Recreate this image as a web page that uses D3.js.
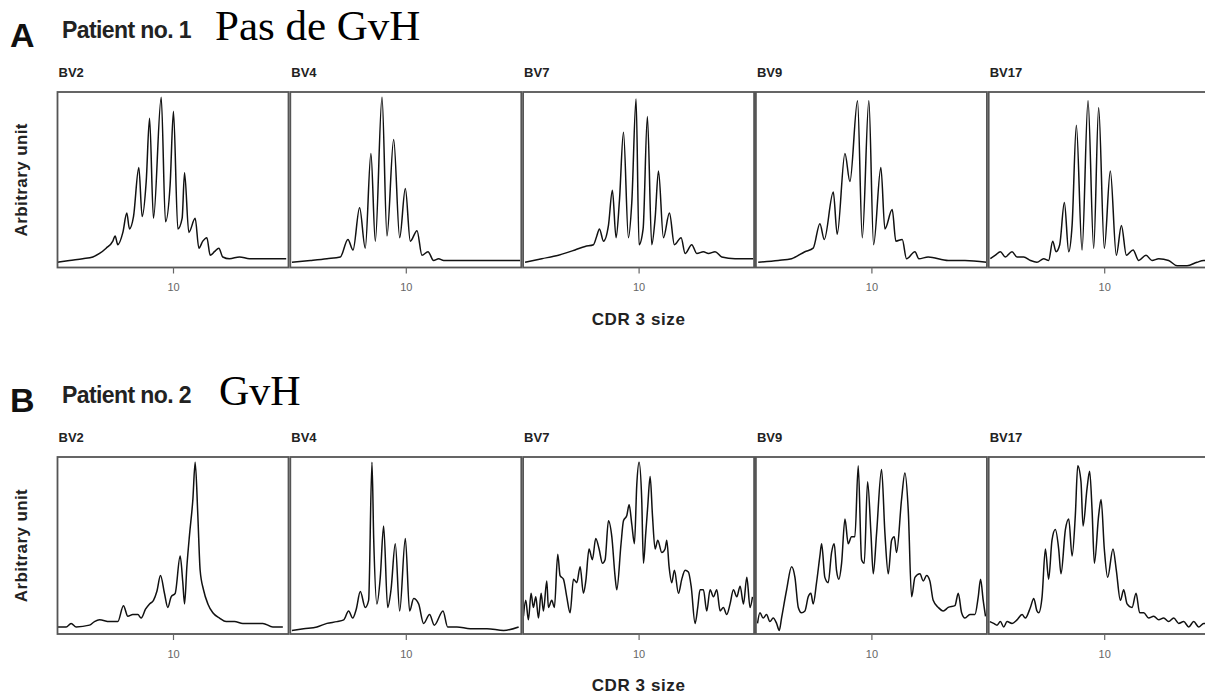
<!DOCTYPE html>
<html>
<head>
<meta charset="utf-8">
<script src="https://cdn.jsdelivr.net/npm/d3@7"></script>
<style>
  html, body { margin: 0; padding: 0; background: #fff; }
  svg { display: block; }
</style>
</head>
<body>
<svg id="chart" width="1205" height="695"></svg>
<script>
// ---------------- DATA ----------------
const panelLetters = ["A", "B"];
const patientLabels = ["Patient no. 1", "Patient no. 2"];
const statusLabels = ["Pas de GvH", "GvH"];
const families = ["BV2", "BV4", "BV7", "BV9", "BV17"];
const xTickValues = [10];
const xTickLabels = ["10"];
const xAxisTitle = "CDR 3 size";
const yAxisTitle = "Arbitrary unit";

// [CDR3 size, arbitrary intensity]  — Patient no. 1
const p1_BV2 = [[0.03,3],[1.04,4],[2.19,5],[3.06,6],[3.64,8],[4.21,11],[4.79,15],[4.99,18],[5.22,13],[5.66,20],[6.0,31],[6.23,22],[6.58,29],[7.04,57],[7.33,29],[7.68,49],[7.97,85],[8.31,28],[8.98,97],[9.35,26],[9.75,47],[10.04,89],[10.42,22],[10.79,28],[11.0,54],[11.37,20],[11.92,28],[12.24,11],[12.58,15],[12.93,17],[13.22,7],[13.59,9],[13.97,11],[14.31,6],[14.89,5],[15.76,6],[16.62,5],[17.78,5],[18.93,5],[19.8,5]];
const p1_BV4 = [[0.14,3],[1.73,4],[3.17,5],[4.33,6],[4.99,16],[5.43,10],[6.0,34],[6.49,11],[6.98,65],[7.36,15],[7.94,97],[8.37,18],[8.95,73],[9.47,17],[9.96,45],[10.39,15],[10.97,21],[11.4,7],[11.92,9],[12.41,4],[12.84,5],[13.28,4],[15.3,4],[17.6,4],[19.9,4]];
const p1_BV7 = [[0.17,3],[1.62,5],[3.06,7],[4.5,10],[5.37,12],[6.09,13],[6.38,18],[6.61,22],[6.96,15],[7.39,24],[7.73,44],[8.05,17],[8.34,38],[8.69,77],[9.12,17],[9.41,37],[9.78,96],[10.04,13],[10.39,22],[10.76,86],[11.14,13],[11.43,28],[11.72,55],[12.15,17],[12.67,31],[13.1,13],[13.68,17],[14.03,8],[14.6,13],[15.04,8],[15.61,9],[16.05,8],[16.62,9],[17.2,6],[18.35,5],[19.94,5]];
const p1_BV9 = [[0.2,3],[1.93,4],[3.09,5],[4.24,9],[4.96,11],[5.54,25],[5.92,16],[6.7,43],[7.04,19],[7.71,65],[8.14,49],[8.8,95],[9.21,17],[9.78,95],[10.19,13],[10.82,57],[11.17,22],[11.8,33],[12.12,15],[12.67,16],[13.04,5],[13.77,9],[14.11,5],[14.92,6],[16.65,4],[18.1,4],[19.97,3]];
const p1_BV17 = [[0.14,5],[0.58,7],[1.01,9],[1.44,6],[2.02,9],[2.45,6],[3.03,6],[3.61,4],[4.18,3],[4.76,5],[5.19,4],[5.54,15],[5.83,9],[6.15,13],[6.55,37],[6.93,9],[7.22,24],[7.59,81],[8.08,10],[8.6,95],[9.09,11],[9.52,91],[10.01,11],[10.53,55],[11.05,7],[11.49,24],[11.92,7],[12.5,10],[12.99,4],[13.62,7],[14.14,4],[14.72,5],[15.58,4],[16.31,1],[17.17,1],[18.04,3],[18.61,4],[19.5,4]];

// Patient no. 2
const p2_BV2 = [[0.03,4],[0.75,4],[1.18,6],[1.62,4],[2.77,5],[3.2,7],[3.64,8],[4.5,7],[5.22,7],[5.71,16],[6.09,10],[6.52,11],[6.96,11],[7.24,9],[7.62,14],[7.97,17],[8.31,19],[8.6,24],[8.92,33],[9.26,23],[9.55,15],[9.84,21],[10.19,23],[10.62,44],[10.85,29],[11.0,17],[11.2,38],[11.43,56],[11.72,76],[11.92,97],[12.15,67],[12.35,36],[12.64,25],[13.02,17],[13.45,12],[14.03,9],[14.6,7],[15.32,7],[16.05,6],[16.91,6],[17.78,6],[18.64,4],[19.51,4]];
const p2_BV4 = [[0.14,2],[1.15,3],[2.31,4],[3.17,6],[4.04,7],[4.62,8],[5.05,13],[5.4,9],[5.71,14],[6.06,24],[6.49,15],[6.78,19],[7.07,97],[7.22,54],[7.5,17],[7.79,32],[8.08,61],[8.43,15],[8.72,25],[9.09,51],[9.47,13],[9.96,54],[10.33,13],[10.68,20],[11.11,17],[11.54,6],[12.06,11],[12.47,5],[13.22,13],[13.62,4],[14.43,4],[15.58,3],[17.03,3],[18.47,2],[19.77,4]];
const p2_BV7 = [[0.03,10],[0.23,19],[0.46,8],[0.69,23],[0.89,15],[1.1,21],[1.33,9],[1.56,23],[1.76,13],[2.05,30],[2.19,15],[2.48,19],[2.71,15],[3.0,45],[3.2,33],[3.49,31],[3.78,21],[4.07,12],[4.36,31],[4.65,29],[4.94,38],[5.22,23],[5.43,30],[5.71,48],[6.0,42],[6.29,54],[6.58,48],[6.87,40],[7.1,42],[7.39,64],[7.68,55],[7.97,32],[8.11,25],[8.48,51],[8.69,64],[8.98,67],[9.18,73],[9.41,62],[9.64,51],[9.84,84],[10.04,97],[10.27,76],[10.42,40],[10.62,57],[10.79,72],[11.0,89],[11.2,67],[11.43,48],[11.66,53],[12.01,46],[12.29,48],[12.44,53],[12.64,38],[12.87,29],[13.1,36],[13.45,23],[13.74,31],[14.03,36],[14.31,35],[14.55,27],[14.89,6],[15.12,15],[15.32,25],[15.61,25],[15.9,13],[16.19,25],[16.48,21],[16.77,25],[17.06,13],[17.34,15],[17.63,11],[17.92,17],[18.21,25],[18.5,21],[18.79,27],[19.08,17],[19.37,32],[19.65,15],[19.86,21]];
const p2_BV9 = [[0.14,6],[0.35,12],[0.63,9],[0.92,11],[1.21,7],[1.5,9],[1.79,6],[2.02,2],[2.22,9],[2.66,25],[3.09,38],[3.38,32],[3.67,15],[3.95,12],[4.24,13],[4.53,21],[4.76,23],[4.96,17],[5.25,29],[5.54,44],[5.69,51],[5.97,32],[6.26,29],[6.55,46],[6.78,51],[6.98,36],[7.19,31],[7.42,40],[7.71,65],[7.99,51],[8.28,55],[8.57,55],[8.86,95],[9.15,42],[9.38,40],[9.67,86],[9.96,57],[10.16,34],[10.45,57],[10.88,93],[11.17,57],[11.46,34],[11.75,53],[11.98,55],[12.18,46],[12.61,76],[12.9,91],[13.19,70],[13.48,21],[13.77,32],[14.2,34],[14.49,30],[14.78,33],[15.06,30],[15.35,19],[15.79,15],[16.22,13],[16.65,15],[17.23,16],[17.52,23],[17.81,12],[18.1,9],[18.53,11],[18.96,11],[19.25,21],[19.45,31],[19.68,19],[19.88,10]];
const p2_BV17 = [[0.09,7],[0.43,6],[0.72,5],[1.01,7],[1.3,4],[1.59,7],[2.02,6],[2.45,8],[2.89,11],[3.17,9],[3.61,15],[3.9,20],[4.18,13],[4.33,12],[4.62,21],[4.91,48],[5.19,31],[5.48,53],[5.77,59],[6.06,48],[6.26,34],[6.64,59],[6.93,65],[7.22,44],[7.5,67],[7.71,95],[7.99,86],[8.17,61],[8.51,82],[8.74,92],[8.95,70],[9.15,40],[9.52,67],[9.73,76],[10.01,48],[10.3,32],[10.76,48],[11.05,36],[11.4,19],[11.69,25],[11.98,17],[12.41,15],[12.76,23],[13.07,12],[13.42,12],[13.85,9],[14.29,10],[14.72,8],[15.15,9],[15.58,7],[16.02,9],[16.45,6],[16.88,7],[17.32,4],[17.75,7],[18.18,4],[18.61,6],[19.5,6]];

const patient1Traces = [p1_BV2, p1_BV4, p1_BV7, p1_BV9, p1_BV17];
const patient2Traces = [p2_BV2, p2_BV4, p2_BV7, p2_BV9, p2_BV17];

// ---------------- LAYOUT ----------------
const svg = d3.select("#chart");
const panelLeft0 = 57.5, panelStep = 232.8, panelW = 231;
const rows = [
  { top: 92,  h: 175.5, traces: patient1Traces },
  { top: 457, h: 177,   traces: patient2Traces }
];
const rowOffset = 365;

const x = d3.scaleLinear().domain([0, 20]).range([0, panelW]);

const defs = svg.append("defs");

rows.forEach((row, r) => {
  const dy = r * rowOffset;
  const y = d3.scaleLinear().domain([0, 100]).range([row.h, 0]);

  // Headings
  svg.append("text").attr("x", 10).attr("y", 47 + dy)
    .attr("font-family", "Liberation Sans, Arial, sans-serif")
    .attr("font-weight", "bold").attr("font-size", 34).attr("fill", "#111")
    .text(panelLetters[r]);
  svg.append("text").attr("x", 62).attr("y", 38 + dy)
    .attr("font-family", "Liberation Sans, Arial, sans-serif")
    .attr("font-weight", "bold").attr("font-size", 23).attr("fill", "#222")
    .attr("letter-spacing", "-0.6")
    .text(patientLabels[r]);
  svg.append("text").attr("x", r === 0 ? 215 : 219).attr("y", 40 + dy)
    .attr("font-family", "Liberation Serif, Times New Roman, serif")
    .attr("font-size", r === 0 ? 43 : 42).attr("fill", "#000")
    .text(statusLabels[r]);

  // Y title
  svg.append("text")
    .attr("transform", `translate(27,${row.top + row.h / 2}) rotate(-90)`)
    .attr("text-anchor", "middle")
    .attr("font-family", "Liberation Sans, Arial, sans-serif")
    .attr("font-weight", "bold").attr("font-size", 17).attr("fill", "#222")
    .attr("letter-spacing", "0.4")
    .text(yAxisTitle);

  const line = d3.line()
    .x(d => x(d[0]))
    .y(d => y(d[1]))
    .curve(d3.curveMonotoneX);

  families.forEach((fam, i) => {
    const left = panelLeft0 + i * panelStep;
    const g = svg.append("g").attr("transform", `translate(${left},${row.top})`);

    svg.append("text").attr("x", left + 1).attr("y", 77 + dy)
      .attr("font-family", "Liberation Sans, Arial, sans-serif")
      .attr("font-weight", "bold").attr("font-size", 13).attr("fill", "#222")
      .text(fam);

    const clipId = `clip-${r}-${i}`;
    defs.append("clipPath").attr("id", clipId)
      .append("rect").attr("x", 0).attr("y", 0).attr("width", panelW).attr("height", row.h);

    g.append("path")
      .datum(row.traces[i])
      .attr("clip-path", `url(#${clipId})`)
      .attr("fill", "none")
      .attr("stroke", "#111")
      .attr("stroke-width", 1.5)
      .attr("stroke-linejoin", "round")
      .attr("d", line);

    g.append("rect")
      .attr("x", 0).attr("y", 0).attr("width", panelW).attr("height", row.h)
      .attr("fill", "none").attr("stroke", "#555").attr("stroke-width", 1.8);

    const axis = d3.axisBottom(x)
      .tickValues(xTickValues)
      .tickFormat((d, k) => xTickLabels[k])
      .tickSize(6)
      .tickPadding(10);
    const ag = g.append("g").attr("transform", `translate(0,${row.h})`).call(axis);
    ag.select(".domain").remove();
    ag.selectAll(".tick line").attr("stroke", "#666").attr("stroke-width", 1.2);
    ag.selectAll(".tick text")
      .attr("font-family", "Liberation Sans, Arial, sans-serif")
      .attr("font-size", 11).attr("fill", "#666");
  });

  // X title, centered under middle panel
  svg.append("text")
    .attr("x", panelLeft0 + 2 * panelStep + panelW / 2)
    .attr("y", row.top + row.h + 57)
    .attr("text-anchor", "middle")
    .attr("font-family", "Liberation Sans, Arial, sans-serif")
    .attr("font-weight", "bold").attr("font-size", 17).attr("fill", "#222")
    .attr("letter-spacing", "0.6")
    .text(xAxisTitle);
});
</script>
</body>
</html>
